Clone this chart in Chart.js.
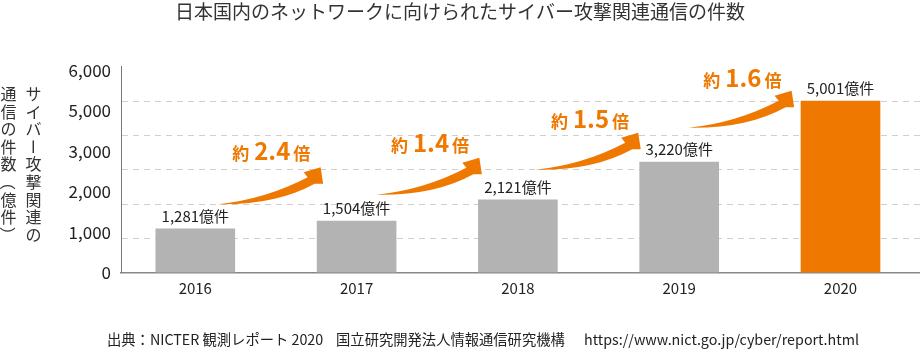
<!DOCTYPE html>
<html><head><meta charset="utf-8">
<script src="https://cdn.jsdelivr.net/npm/chart.js@4/dist/chart.umd.min.js"></script>
<style>html,body{margin:0;padding:0;background:#fff;overflow:hidden}</style>
</head><body>
<canvas id="c" width="920" height="353"></canvas>
<script>
// ---- data ----
const years = ['2016', '2017', '2018', '2019', '2020'];
const counts = [1281, 1504, 2121, 3220, 5001];
const ratios = ['2.4', '1.4', '1.5', '1.6'];
const yTickLabels = ['0', '1,000', '2,000', '3,000', '5,000', '6,000'];
const unitText = '億件';
const titleText = '日本国内のネットワークに向けられたサイバー攻撃関連通信の件数';
const yTitleColumns = ['サイバー攻撃関連の', '通信の件数（億件）'];
const sourceText = '出典：NICTER 観測レポート 2020    国立研究開発法人情報通信研究機構      https://www.nict.go.jp/cyber/report.html';

// ---- styles / layout ----
const FONT = '"Noto Sans CJK JP", "Noto Sans", sans-serif';
const ORANGE = '#ee7800';
const GRAY = '#b3b3b3';
Chart.defaults.font.family = FONT;
Chart.defaults.color = '#222';

const calloutLayout = [ // positions in data units (x: category index, y: value)
  {tx: 0.471, ty: 3283, ax: 0.777, ay: 3070},
  {tx: 1.455, ty: 3524, ax: 1.761, ay: 3350},
  {tx: 2.447, ty: 4206, ax: 2.746, ay: 4078},
  {tx: 3.392, ty: 5418, ax: 3.697, ay: 5301}
];

const fmt = v => v.toLocaleString('en-US');

function drawArrow(ctx, px, py) {
  ctx.beginPath();
  ctx.moveTo(px - 103, py + 37);
  ctx.quadraticCurveTo(px - 55, py + 32, px - 13, py + 10);
  ctx.lineTo(px - 17, py + 5);
  ctx.lineTo(px, py);
  ctx.lineTo(px + 2.5, py + 16.5);
  ctx.lineTo(px - 6, py + 16.5);
  ctx.quadraticCurveTo(px - 45, py + 38, px - 103, py + 37);
  ctx.closePath();
  ctx.fill();
}

const decor = {
  id: 'decor',
  afterDatasetsDraw(chart) {
    const ctx = chart.ctx;
    const xs = chart.scales.x, ys = chart.scales.y;
    ctx.save();
    // bar value labels
    const meta = chart.getDatasetMeta(0);
    ctx.fillStyle = '#222';
    ctx.font = '15px ' + FONT;
    ctx.textAlign = 'center';
    ctx.textBaseline = 'alphabetic';
    meta.data.forEach((el, i) => {
      ctx.fillText(fmt(counts[i]) + unitText, el.x, el.y - 7);
    });
    // callouts
    ctx.fillStyle = ORANGE;
    ratios.forEach((r, i) => {
      const L = calloutLayout[i];
      const cx = xs.getPixelForValue(L.tx), by = ys.getPixelForValue(L.ty);
      ctx.font = 'bold 17px ' + FONT;
      const w1 = ctx.measureText('約').width, w3 = ctx.measureText('倍').width;
      ctx.font = 'bold 24px ' + FONT;
      const w2 = ctx.measureText(r).width;
      const total = w1 + 5 + w2 + 3 + w3;
      let x = cx - total / 2;
      ctx.textAlign = 'left';
      ctx.font = 'bold 17px ' + FONT;
      ctx.fillText('約', x, by);
      x += w1 + 5;
      ctx.font = 'bold 24px ' + FONT;
      ctx.fillText(r, x, by);
      x += w2 + 3;
      ctx.font = 'bold 17px ' + FONT;
      ctx.fillText('倍', x, by);
      drawArrow(ctx, xs.getPixelForValue(L.ax), ys.getPixelForValue(L.ay));
    });
    // vertical y-axis title
    ctx.fillStyle = '#333';
    ctx.font = '16px ' + FONT;
    ctx.textAlign = 'center';
    ctx.textBaseline = 'middle';
    const colX = [33.5, 8.5];
    yTitleColumns.forEach((col, ci) => {
      [...col].forEach((ch, k) => {
        const y = 94 + k * 17.6;
        if ('ー（）'.includes(ch)) {
          ctx.save();
          ctx.translate(colX[ci], y);
          ctx.rotate(Math.PI / 2);
          ctx.fillText(ch, 0, 0);
          ctx.restore();
        } else {
          ctx.fillText(ch, colX[ci], y);
        }
      });
    });
    // source
    ctx.fillStyle = '#222';
    ctx.font = '14.3px ' + FONT;
    ctx.textAlign = 'left';
    ctx.textBaseline = 'middle';
    ctx.fillText(sourceText, 107, 340);
    ctx.restore();
  }
};

new Chart(document.getElementById('c'), {
  type: 'bar',
  data: {
    datasets: [{
      data: counts.map((v, i) => ({x: i, y: v})),
      backgroundColor: counts.map((v, i) => i === counts.length - 1 ? ORANGE : GRAY),
      barThickness: 79,
      borderWidth: 0
    }]
  },
  options: {
    responsive: false,
    devicePixelRatio: 1,
    animation: false,
    layout: {padding: {left: 0, right: 0, top: 0, bottom: 40}},
    plugins: {
      legend: {display: false},
      tooltip: {enabled: false},
      title: {
        display: true,
        text: titleText,
        color: '#333',
        font: {size: 19, weight: 'normal'},
        padding: {top: 0.5, bottom: 43.4}
      }
    },
    scales: {
      x: {
        type: 'linear',
        offset: false,
        min: -0.4606,
        max: 4.4929,
        grid: {display: false, drawTicks: false, offset: false},
        border: {display: true, color: '#888', width: 1.5},
        ticks: {
          stepSize: 1,
          includeBounds: false,
          padding: 7,
          font: {size: 15},
          color: '#222',
          autoSkip: false,
          maxRotation: 0,
          callback: v => years[v] ?? ''
        },
        afterFit: s => { s.height = 40.3; }
      },
      y: {
        min: 0,
        max: 6000,
        weight: 0,
        ticks: {display: false, stepSize: 1000},
        grid: {
          drawTicks: false,
          color: c => (c.tick && (c.tick.value === 0 || c.tick.value === 6000)) ? 'rgba(0,0,0,0)' : '#cfcfcf'
        },
        border: {display: true, color: '#777', width: 1, dash: [6, 5]},
        afterFit: s => { s.width = 0; }
      },
      yLab: {
        type: 'linear',
        position: 'left',
        weight: 1,
        min: 0,
        max: 5.09,
        grid: {display: false, drawTicks: false},
        border: {display: false},
        ticks: {
          stepSize: 1,
          includeBounds: false,
          padding: 10,
          font: {size: 17},
          color: '#222',
          autoSkip: false,
          callback: v => yTickLabels[v] ?? ''
        },
        afterFit: s => { s.width = 121; }
      }
    }
  },
  plugins: [decor]
});
</script>
</body></html>
